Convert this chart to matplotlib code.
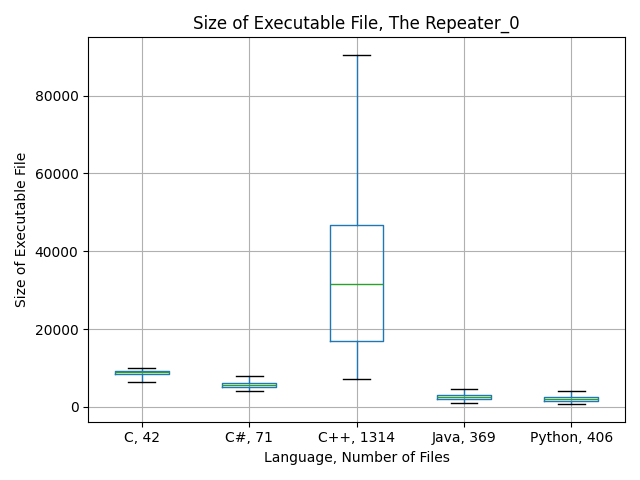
import matplotlib
matplotlib.use("Agg")
import matplotlib.pyplot as plt

labels = ["C, 42", "C#, 71", "C++, 1314", "Java, 369", "Python, 406"]
whislo = [6500, 4200, 7300, 900, 700]
q1 = [8400, 5200, 17000, 2000, 1500]
med = [8900, 5700, 31500, 2500, 2000]
q3 = [9300, 6100, 46700, 3000, 2600]
whishi = [10000, 8000, 90500, 4700, 4200]

stats = [dict(label=l, whislo=a, q1=b, med=c, q3=d, whishi=e, fliers=[])
         for l, a, b, c, d, e in zip(labels, whislo, q1, med, q3, whishi)]

fig, ax = plt.subplots(figsize=(6.4, 4.8), dpi=100)
ax.bxp(stats, showfliers=False,
       boxprops=dict(color="#1f77b4"), whiskerprops=dict(color="#1f77b4"),
       capprops=dict(color="black"), medianprops=dict(color="#2ca02c"))
ax.grid(True)
ax.set_title("Size of Executable File, The Repeater_0")
ax.set_xlabel("Language, Number of Files")
ax.set_ylabel("Size of Executable File")
fig.tight_layout()
fig.savefig("out.png")
